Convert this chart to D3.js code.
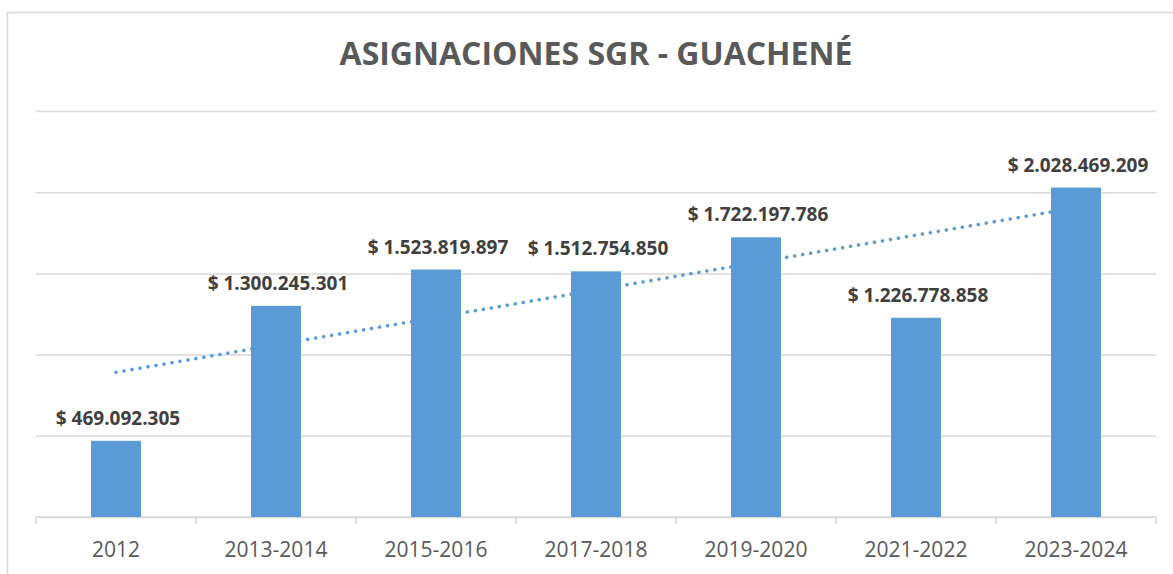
<!DOCTYPE html>
<html>
<head>
<meta charset="utf-8">
<script src="https://cdn.jsdelivr.net/npm/d3@7"></script>
<style>
  body { margin: 0; background: #fff; }
  svg { display: block; font-family: "Open Sans", sans-serif; }
</style>
</head>
<body>
<svg width="1173" height="574"></svg>
<script>
// data
var periods = ["2012", "2013-2014", "2015-2016", "2017-2018", "2019-2020", "2021-2022", "2023-2024"];
var amounts = [469092305, 1300245301, 1523819897, 1512754850, 1722197786, 1226778858, 2028469209];
var yTicks = [0, 500000000, 1000000000, 1500000000, 2000000000, 2500000000];
var chartTitle = "ASIGNACIONES SGR - GUACHENÉ";

var svg = d3.select("svg"),
    margin = {top: 111, right: 17, bottom: 57, left: 36},
    width = +svg.attr("width") - margin.left - margin.right,
    height = +svg.attr("height") - margin.top - margin.bottom;

var blue = "#5b9bd5", grid = "#d9d9d9";

// chart frame
svg.append("rect")
    .attr("x", 7.5).attr("y", 12.5)
    .attr("width", 1300).attr("height", 700)
    .attr("fill", "none").attr("stroke", grid).attr("stroke-width", 1.5);

svg.append("text")
    .attr("x", 596).attr("y", 65)
    .attr("text-anchor", "middle")
    .attr("font-size", "32px").attr("font-weight", "bold")
    .attr("fill", "#595959")
    .text(chartTitle);

var x = d3.scaleBand().domain(periods).range([0, width]).paddingInner(0).paddingOuter(0);
var y = d3.scaleLinear().domain([0, 2500000000]).range([height, 0]);

var g = svg.append("g")
    .attr("transform", "translate(" + margin.left + "," + margin.top + ")");

// gridlines
g.append("g")
    .call(d3.axisLeft(y).tickValues(yTicks).tickSize(-width).tickFormat(""))
    .call(function (s) {
        s.select(".domain").remove();
        s.selectAll("line").attr("stroke", grid).attr("stroke-width", 1.5);
    });

// x axis with ticks at the category boundaries
var xa = g.append("g").attr("transform", "translate(0," + height + ")");
xa.append("line")
    .attr("x1", 0).attr("x2", width)
    .attr("stroke", grid).attr("stroke-width", 1.5);
xa.selectAll(".tk")
    .data(periods.concat([null]))
    .enter().append("line")
    .attr("class", "tk")
    .attr("x1", function (d, i) { return i * x.bandwidth(); })
    .attr("x2", function (d, i) { return i * x.bandwidth(); })
    .attr("y1", 0).attr("y2", 7)
    .attr("stroke", grid).attr("stroke-width", 1.5);
xa.selectAll(".lbl")
    .data(periods)
    .enter().append("text")
    .attr("class", "lbl")
    .attr("x", function (d) { return x(d) + x.bandwidth() / 2; })
    .attr("y", 40)
    .attr("text-anchor", "middle")
    .attr("font-size", "21px")
    .attr("fill", "#595959")
    .text(function (d) { return d; });

var barW = 50;

g.selectAll(".bar")
    .data(amounts)
    .enter().append("rect")
    .attr("class", "bar")
    .attr("x", function (d, i) { return x(periods[i]) + x.bandwidth() / 2 - barW / 2; })
    .attr("width", barW)
    .attr("y", function (d) { return y(d); })
    .attr("height", function (d) { return height - y(d); })
    .attr("fill", blue);

// linear trendline (least squares over category index)
var n = amounts.length,
    mx = d3.mean(amounts, function (d, i) { return i; }),
    my = d3.mean(amounts),
    slope = d3.sum(amounts, function (d, i) { return (i - mx) * (d - my); }) /
            d3.sum(amounts, function (d, i) { return (i - mx) * (i - mx); });
var trend = [0, n - 1].map(function (i) { return [i, my + slope * (i - mx)]; });

g.append("path")
    .datum(trend)
    .attr("fill", "none")
    .attr("stroke", blue)
    .attr("stroke-width", 3.5)
    .attr("stroke-linecap", "round")
    .attr("stroke-dasharray", "0.1 8")
    .attr("d", d3.line()
        .x(function (d) { return x(periods[d[0]]) + x.bandwidth() / 2; })
        .y(function (d) { return y(d[1]); }));

var fmt = d3.formatLocale({decimal: ",", thousands: ".", grouping: [3], currency: ["$", ""]}).format(",d");

g.selectAll(".val")
    .data(amounts)
    .enter().append("text")
    .attr("class", "val")
    .attr("x", function (d, i) { return x(periods[i]) + x.bandwidth() / 2 + 2; })
    .attr("y", function (d) { return y(d) - 16; })
    .attr("text-anchor", "middle")
    .attr("font-size", "19px").attr("font-weight", "bold")
    .attr("fill", "#404040")
    .text(function (d) { return "$ " + fmt(d); });
</script>
</body>
</html>
